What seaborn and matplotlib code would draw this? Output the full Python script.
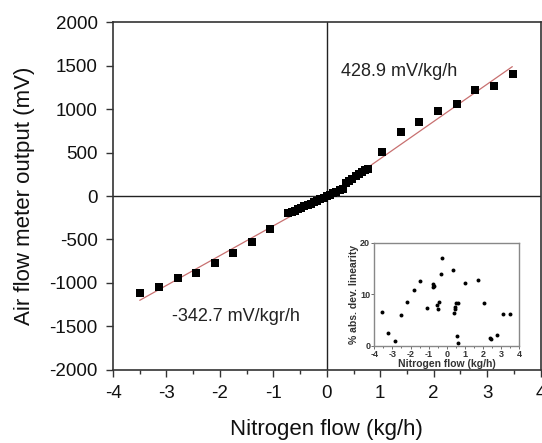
import matplotlib
matplotlib.use("Agg")
import matplotlib.pyplot as plt
import seaborn as sns
import numpy as np
import pandas as pd
from matplotlib.ticker import MultipleLocator

sns.set_theme(style="ticks")
plt.rcParams['font.family'] = ['Liberation Sans', 'DejaVu Sans']
plt.rcParams['axes.unicode_minus'] = False

# Main data: nitrogen flow (kg/h) vs. air flow meter output (mV)
flow_neg = [-3.49, -3.14, -2.79, -2.45, -2.10, -1.75, -1.40, -1.07]
out_neg = [-1112, -1049, -945, -883, -774, -655, -534, -380]
flow_mid = [-0.72, -0.66, -0.60, -0.54, -0.48, -0.42, -0.36, -0.30, -0.24, -0.18,
            -0.12, -0.06, 0.0, 0.06, 0.12, 0.18, 0.24, 0.30, 0.36, 0.42, 0.48,
            0.54, 0.60, 0.66, 0.72, 0.77]
out_mid = [-200, -185, -170, -152, -136, -118, -102, -86, -68, -52,
           -36, -18, 0, 16, 32, 48, 64, 80, 150, 175, 200,
           225, 250, 275, 298, 316]
flow_pos = [1.03, 1.39, 1.73, 2.08, 2.43, 2.78, 3.13, 3.48]
out_pos = [506, 735, 849, 975, 1059, 1223, 1265, 1402]

# Linear fits (sensitivities)
slope_neg = 342.7
slope_pos = 428.9
fit_x_neg = [-3.5, 0.0]
fit_x_pos = [0.0, 3.47]

# Inset: % abs. deviation from linearity
dev_flow = [-3.58, -3.23, -2.84, -2.53, -2.18, -1.79, -1.46, -1.11, -0.76, -0.73,
            -0.74, -0.56, -0.49, -0.41, -0.32, -0.27, 0.32, 0.38, 0.43, 0.47,
            0.52, 0.60, 0.56, 0.63, 1.00, 1.70, 2.05, 2.38, 2.42, 2.75, 3.10, 3.47]
dev_pct = [6.6, 2.6, 0.9, 6.1, 8.5, 10.9, 12.6, 7.3, 12.1, 11.7,
           11.4, 8.0, 7.1, 8.6, 14.0, 17.1, 14.8, 6.3, 7.2, 7.5,
           8.4, 8.4, 1.9, 0.65, 12.3, 12.7, 8.3, 1.5, 1.4, 2.2, 6.2, 6.2]

df_main = pd.DataFrame({"flow": flow_neg + flow_mid + flow_pos,
                        "out": out_neg + out_mid + out_pos})
df_fit_neg = pd.DataFrame({"flow": fit_x_neg, "out": [slope_neg * v for v in fit_x_neg]})
df_fit_pos = pd.DataFrame({"flow": fit_x_pos, "out": [slope_pos * v for v in fit_x_pos]})
df_dev = pd.DataFrame({"flow": dev_flow, "dev": dev_pct})

fig = plt.figure(figsize=(5.42, 4.43), dpi=100)
ax = fig.add_axes([0.2085, 0.165, 0.789, 0.785])

ax.axhline(0, color="#222222", lw=1.0, zorder=1)
ax.axvline(0, color="#222222", lw=1.0, zorder=1)
sns.lineplot(data=df_fit_neg, x="flow", y="out", ax=ax, color="#c87070", lw=0.9, zorder=2)
sns.lineplot(data=df_fit_pos, x="flow", y="out", ax=ax, color="#c87070", lw=0.9, zorder=2)
sns.scatterplot(data=df_main, x="flow", y="out", ax=ax, marker="s", s=36,
                color="black", linewidth=0, zorder=3)

ax.set_xlim(-4, 4)
ax.set_ylim(-2000, 2000)
ax.xaxis.set_major_locator(MultipleLocator(1))
ax.xaxis.set_minor_locator(MultipleLocator(0.5))
ax.yaxis.set_major_locator(MultipleLocator(500))
ax.tick_params(axis="both", which="major", labelsize=13.5, length=5, width=1,
               color="#333333", labelcolor="#111111", pad=6)
ax.tick_params(axis="x", which="minor", length=3, width=1, color="#333333")
for sp in ax.spines.values():
    sp.set_color("#333333")
    sp.set_linewidth(1.2)
ax.set_xlabel("Nitrogen flow (kg/h)", fontsize=16, color="#111111", labelpad=12)
ax.set_ylabel("Air flow meter output (mV)", fontsize=16, color="#111111", labelpad=10)

ax.text(0.27, 1429, "428.9 mV/kg/h", fontsize=13, color="#222222", va="center", ha="left")
ax.text(-2.9, -1391, "-342.7 mV/kgr/h", fontsize=13, color="#222222", va="center", ha="left")

# Inset
axi = fig.add_axes([0.6906, 0.219, 0.2675, 0.233])
sns.scatterplot(data=df_dev, x="flow", y="dev", ax=axi, s=8, color="black", linewidth=0)
axi.set_xlim(-4, 4)
axi.set_ylim(0, 20)
axi.xaxis.set_major_locator(MultipleLocator(1))
axi.xaxis.set_minor_locator(MultipleLocator(0.5))
axi.yaxis.set_major_locator(MultipleLocator(10))
axi.tick_params(axis="both", which="major", labelsize=6.5, length=2, width=0.6,
                color="#555555", labelcolor="#333333", pad=1)
axi.tick_params(axis="x", which="minor", length=1.5, width=0.6, color="#555555")
for lab in axi.get_xticklabels() + axi.get_yticklabels():
    lab.set_fontweight("bold")
for sp in axi.spines.values():
    sp.set_color("#888888")
    sp.set_linewidth(1.0)
axi.set_xlabel("Nitrogen flow (kg/h)", fontsize=7.5, fontweight="bold", color="#333333", labelpad=0)
axi.set_ylabel("% abs. dev. linearity", fontsize=7.5, fontweight="bold", color="#333333", labelpad=1)

fig.savefig("out.png", dpi=100)
